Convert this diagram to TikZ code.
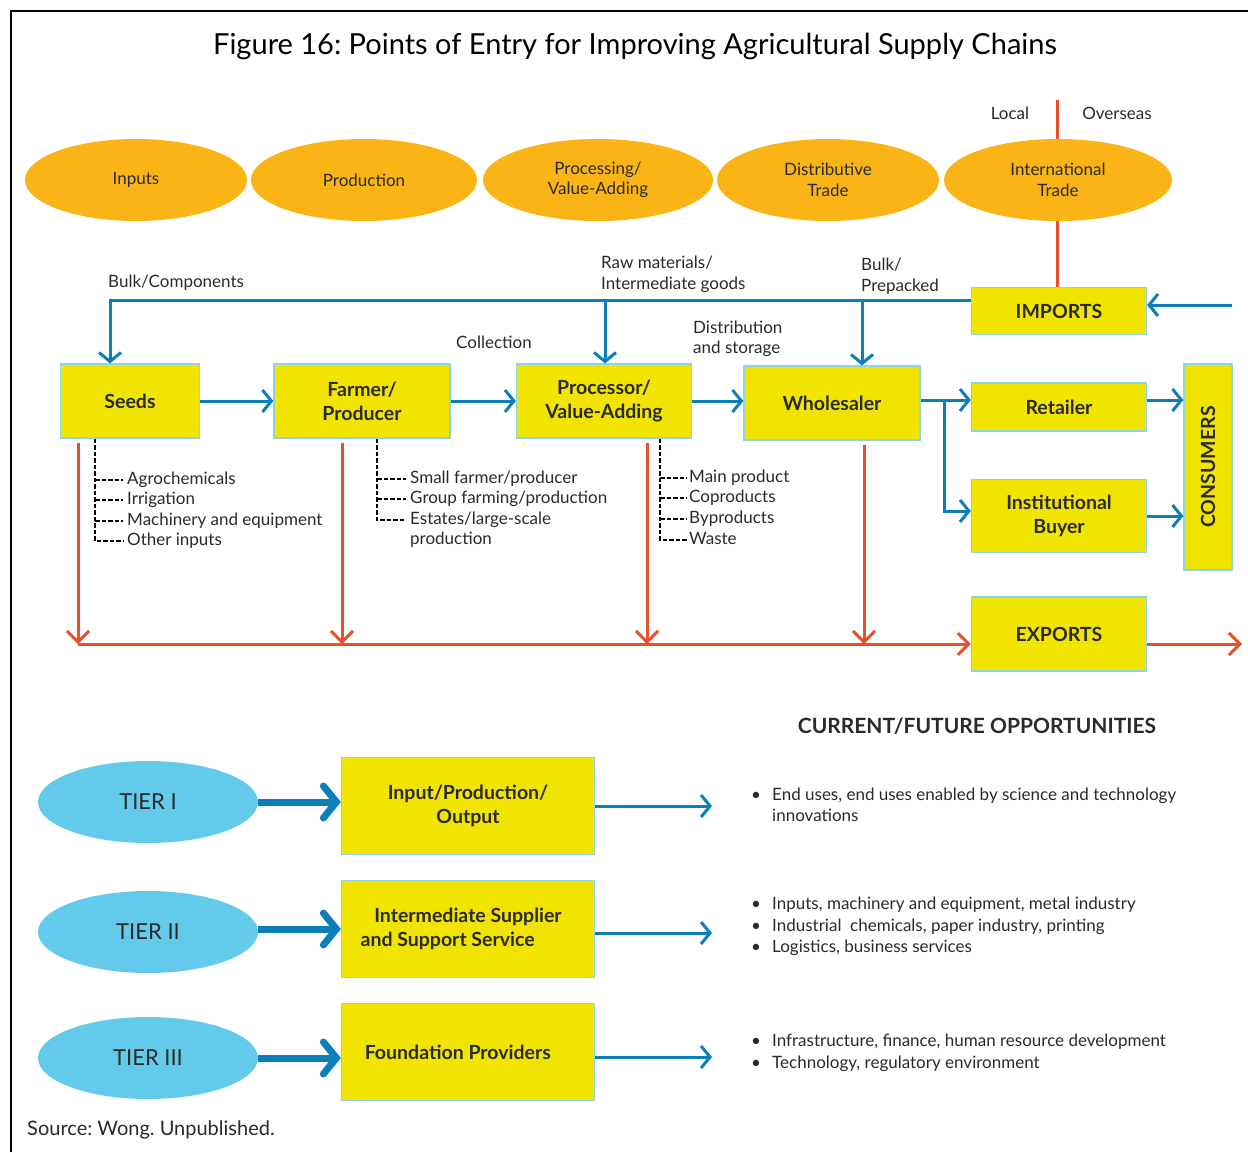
\documentclass[tikz,border=0pt]{standalone}
\usepackage{fontspec}
\setmainfont{Lato}
\usetikzlibrary{arrows.meta,shapes.geometric}
\definecolor{orng}{HTML}{FBB416}
\definecolor{redl}{HTML}{E8502C}
\definecolor{blu}{HTML}{0A7FBA}
\definecolor{yel}{HTML}{F1E500}
\definecolor{bordc}{HTML}{8ED3E8}
\definecolor{tierc}{HTML}{63CAEB}
\definecolor{txt}{HTML}{2A2A2A}
\begin{document}
\frenchspacing
\begin{tikzpicture}[x=1pt,y=-1pt,
  lbl/.style={font=\fontsize{17}{21}\selectfont, text=txt, inner sep=0pt, text height=12pt, text depth=4pt},
  ybox/.style={draw=bordc, line width=1.2pt, fill=yel, text=txt, align=center, inner sep=0pt,
     font=\fontsize{19.5}{24}\selectfont\bfseries},
  oell/.style={ellipse, fill=orng, text=txt, align=center, inner sep=0pt, minimum width=224pt, minimum height=82pt,
     font=\fontsize{17}{20.5}\selectfont},
  tell/.style={ellipse, fill=tierc, text=txt, inner sep=0pt, minimum width=220pt, minimum height=82pt,
     font=\fontsize{22}{26}\selectfont},
  blarr/.style={draw=blu, line width=3pt, -{Straight Barb[length=9pt,width=22pt]}},
  blline/.style={draw=blu, line width=3pt},
  thick arr/.style={draw=blu, line width=7pt, -{Straight Barb[length=13pt,width=32pt,line cap=round]}},
  redarr/.style={draw=redl, line width=3pt, -{Straight Barb[length=11pt,width=22pt]}},
  redline/.style={draw=redl, line width=3pt},
  dsh/.style={draw=black, line width=2.5pt, dash pattern=on 4.5pt off 2pt},
  frame/.style={draw=black, line width=2pt}
]
\useasboundingbox (0,0) rectangle (1248,1152);
% frame
\coordinate (fa) at (11,1152);
\coordinate (fb) at (11,11);
\coordinate (fc) at (1248,11);
\draw[frame] (fa) -- (fb) -- (fc);

% title
\node[font=\fontsize{29}{34}\selectfont, text=black, inner sep=0pt] (title) at (635,46)
  {Figure 16: Points of Entry for Improving Agricultural Supply Chains};

% boxes
\node[ybox, minimum width=175pt, minimum height=47pt] (imports) at (1059,311) {IMPORTS};
\node[ybox, minimum width=139pt, minimum height=74pt] (seeds) at (130,401) {Seeds};
\node[ybox, minimum width=176pt, minimum height=74pt] (farmer) at (362,401) {Farmer/\\Producer};
\node[ybox, minimum width=175pt, minimum height=74pt] (proc) at (604,401) {Processor/\\Value-Adding};
\node[ybox, minimum width=176pt, minimum height=74pt] (whole) at (832,403) {Wholesaler};
\node[ybox, minimum width=175pt, minimum height=48pt] (retail) at (1059,407) {Retailer};
\node[ybox, minimum width=175pt, minimum height=73pt] (inst) at (1059,516) {Institutional\\Buyer};
\node[ybox, minimum width=206pt, minimum height=48pt, rotate=90] (cons) at (1208,467) {CONSUMERS};
\node[ybox, minimum width=175pt, minimum height=74pt] (exports) at (1059,634) {EXPORTS};

% local / overseas line
\coordinate (lo) at (1057,100);
\draw[redline] (lo) -- (lo |- imports.north);
\node[lbl] (local) at (1010,115) {Local};
\node[lbl] (overseas) at (1117,115) {Overseas};

% orange ellipses
\node[oell, minimum width=222pt] (e1) at (136,180) {Inputs};
\node[oell, minimum width=226pt] (e2) at (364,180) {Production};
\node[oell, minimum width=230pt] (e3) at (598,180) {Processing/\\Value-Adding};
\node[oell, minimum width=222pt] (e4) at (828,180) {Distributive\\Trade};
\node[oell, minimum width=228pt] (e5) at (1058,180) {International\\Trade};

% imports distribution
\coordinate (impin) at (1232,305);
\draw[blarr] (impin) -- (impin -| imports.east);
\coordinate (ti) at ([yshift=11pt]imports.west);
\coordinate (sd) at ([xshift=-20pt]seeds.north);
\draw[blarr] (ti) -| (sd);
\coordinate (j1) at (605,300);
\draw[blarr] (j1) -- (j1 |- proc.north);
\coordinate (j2) at (862,300);
\draw[blarr] (j2) -- (j2 |- whole.north);

\node[lbl, anchor=west] (bc) at (108,283) {Bulk/Components};
\node[lbl, anchor=west] (rm1) at (601,264) {Raw materials/};
\node[lbl, anchor=west] (rm2) at (601,285) {Intermediate goods};
\node[lbl, anchor=west] (bp1) at (861,266) {Bulk/};
\node[lbl, anchor=west] (bp2) at (861,287) {Prepacked};
\node[lbl] (coll) at (494,344) {Collection};
\node[lbl, anchor=west] (ds1) at (693,329) {Distribution};
\node[lbl, anchor=west] (ds2) at (693,349) {and storage};

% main chain
\draw[blarr] (seeds.east) -- (farmer.west);
\draw[blarr] (farmer.east) -- (proc.west);
\draw[blarr] (proc.east) -- (proc.east -| whole.west);
\coordinate (wr) at ([yshift=3pt]whole.east);
\draw[blarr] (wr) -- (wr -| retail.west);
\coordinate (br) at (944,400);
\coordinate (ib) at ([yshift=5pt]inst.west);
\draw[blarr] (br) |- (ib);
\coordinate (rc) at ([yshift=7pt]retail.east);
\draw[blarr] (rc) -- (rc -| cons.north);
\draw[blarr] (inst.east) -- (inst.east -| cons.north);

% red flows to exports
\coordinate (rb) at (78,644);
\draw[redarr] ([xshift=-52pt,yshift=-4pt]seeds.south) -- (rb);
\coordinate (rb2) at (342,644);
\draw[redarr] ([xshift=-20pt,yshift=-4pt]farmer.south) -- (rb2);
\coordinate (rb3) at (647,644);
\draw[redarr] ([xshift=43pt,yshift=-4pt]proc.south) -- (rb3);
\coordinate (rb4) at (864,644);
\draw[redarr] ([xshift=32pt,yshift=-4pt]whole.south) -- (rb4);
\draw[redarr] (rb) -- (rb -| exports.west);
\coordinate (xo) at (1242,644);
\draw[redarr] (xo -| exports.east) -- (xo);

% dashed brackets: seeds
\node[lbl, anchor=west] (a1) at (127,480) {Agrochemicals};
\node[lbl, anchor=west] (a2) at (127,500) {Irrigation};
\node[lbl, anchor=west] (a3) at (127,521) {Machinery and equipment};
\node[lbl, anchor=west] (a4) at (127,541) {Other inputs};
\coordinate (d1) at ([xshift=-35pt]seeds.south);
\draw[dsh] (d1) |- ([xshift=-4pt]a4.west);
\foreach \n in {a1,a2,a3}{\draw[dsh] (\n.west -| d1) -- ([xshift=-4pt]\n.west);}

% farmer
\node[lbl, anchor=west] (f1) at (410,479) {Small farmer/producer};
\node[lbl, anchor=west] (f2) at (410,499) {Group farming/production};
\node[lbl, anchor=west] (f3) at (410,520) {Estates/large-scale};
\node[lbl, anchor=west] (f4) at (410,540) {production};
\coordinate (d2) at ([xshift=15pt]farmer.south);
\draw[dsh] (d2) |- ([xshift=-4pt]f3.west);
\foreach \n in {f1,f2}{\draw[dsh] (\n.west -| d2) -- ([xshift=-4pt]\n.west);}

% processor
\node[lbl, anchor=west] (p1) at (689,478) {Main product};
\node[lbl, anchor=west] (p2) at (689,498) {Coproducts};
\node[lbl, anchor=west] (p3) at (689,519) {Byproducts};
\node[lbl, anchor=west] (p4) at (689,540) {Waste};
\coordinate (d3) at ([xshift=56pt]proc.south);
\draw[dsh] (d3) |- ([xshift=-2pt]p4.west);
\foreach \n in {p1,p2,p3}{\draw[dsh] (\n.west -| d3) -- ([xshift=-2pt]\n.west);}

% opportunities
\node[font=\fontsize{21}{25}\selectfont\bfseries, text=txt, inner sep=0pt] (opp) at (977,726) {CURRENT/FUTURE OPPORTUNITIES};

\node[tell] (t1) at (148,802) {TIER I};
\node[tell] (t2) at (148,932) {TIER II};
\node[tell] (t3) at (148,1058) {TIER III};

\node[ybox, minimum width=253pt, minimum height=97pt] (b1) at (468,806) {Input/Production/\\Output};
\node[ybox, minimum width=253pt, minimum height=97pt] (b2) at (468,929) {\phantom{x}Intermediate Supplier\phantom{x}\\and Support Service\phantom{xxxx}};
\node[ybox, minimum width=253pt, minimum height=97pt] (b3) at (468,1052) {Foundation Providers\phantom{xx}};

\draw[thick arr] (t1.east) -- (t1.east -| b1.west);
\draw[thick arr] (t2.east |- b2.west) -- (b2.west);
\draw[thick arr] (t3.east) -- (b3.west |- t3.east);

\coordinate (o1) at (712,806);
\coordinate (o2) at (712,933);
\coordinate (o3) at (712,1057);
\draw[blarr] (o1 -| b1.east) -- (o1);
\draw[blarr] (o2 -| b2.east) -- (o2);
\draw[blarr] (o3 -| b3.east) -- (o3);

% bullets
\node[lbl, anchor=west] (u1) at (751,796) {•};
\node[lbl, anchor=west] (l1a) at (772,796) {End uses, end uses enabled by science and technology};
\node[lbl, anchor=west] (l1b) at (772,817) {innovations};
\node[lbl, anchor=west] (u2) at (751,905) {•};
\node[lbl, anchor=west] (l2a) at (772,905) {Inputs, machinery and equipment, metal industry};
\node[lbl, anchor=west] (u3) at (751,927) {•};
\node[lbl, anchor=west] (l2b) at (772,927) {Industrial\ \ chemicals, paper industry, printing};
\node[lbl, anchor=west] (u4) at (751,948) {•};
\node[lbl, anchor=west] (l2c) at (772,948) {Logistics, business services};
\node[lbl, anchor=west] (u5) at (751,1042) {•};
\node[lbl, anchor=west] (l3a) at (772,1042) {Infrastructure, finance, human resource development};
\node[lbl, anchor=west] (u6) at (751,1064) {•};
\node[lbl, anchor=west] (l3b) at (772,1064) {Technology, regulatory environment};

% source
\node[lbl, anchor=west, font=\fontsize{20}{24}\selectfont] (src) at (27,1131) {Source: Wong. Unpublished.};
\end{tikzpicture}
\end{document}
